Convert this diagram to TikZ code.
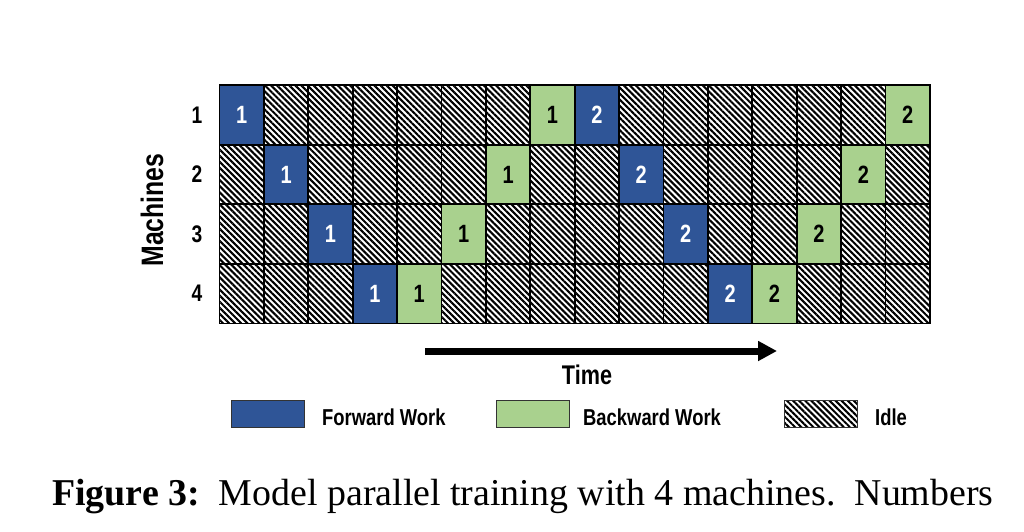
\documentclass[tikz,border=0pt]{standalone}
\usepackage{fontspec}
\setmainfont{Liberation Serif}
\newfontfamily\labelfont[FakeStretch=0.8]{Liberation Sans}
\usetikzlibrary{arrows.meta,patterns.meta,positioning}

\definecolor{fwdblue}{RGB}{47,85,151}
\definecolor{bwdgreen}{RGB}{169,209,142}

\tikzset{
  cell/.style={draw=black,line width=1.8pt,minimum width=44.4pt,minimum height=59.6pt,
    inner sep=0pt,font=\labelfont\bfseries\fontsize{25}{25}\selectfont},
  fwd/.style={fill=fwdblue,text=white},
  bwd/.style={fill=bwdgreen,text=black},
  idle/.style={pattern={Lines[angle=-45,distance=4.3pt,line width=2.1pt]}},
  keybox/.style={draw=black!80,line width=1pt,minimum width=73pt,minimum height=27pt,inner sep=0pt},
  keytext/.style={anchor=base west,inner sep=0pt,font=\labelfont\bfseries\fontsize{23}{23}\selectfont},
  rowlabel/.style={inner sep=0pt,font=\labelfont\bfseries\fontsize{24}{24}\selectfont},
}

\begin{document}
\begin{tikzpicture}[x=1pt,y=1pt,yscale=-1,xscale=1]
\useasboundingbox (0,0) rectangle (1024,532);

% Grid of machines over time
\foreach \r/\fa/\ba/\fb/\bb in {1/1/8/9/16, 2/2/7/10/15, 3/3/6/11/14, 4/4/5/12/13}{
  \foreach \c in {1,...,16}{
    \def\kind{idle}\def\num{}
    \ifnum\c=\fa \def\kind{fwd}\def\num{1}\fi
    \ifnum\c=\ba \def\kind{bwd}\def\num{1}\fi
    \ifnum\c=\fb \def\kind{fwd}\def\num{2}\fi
    \ifnum\c=\bb \def\kind{bwd}\def\num{2}\fi
    \node [cell,\kind] (c\r-\c) at ({219.5+(\c-0.5)*44.4},{85+(\r-0.5)*59.6}) {\num};
  }
  % Text Node
  \node [rowlabel] (m\r) at (197,{85+(\r-0.5)*59.6}) {\r};
}

% Text Node
\node [rowlabel,rotate=90,font=\labelfont\bfseries\fontsize{31}{31}\selectfont] (machines) at (152,210) {Machines};

% Time arrow
\coordinate (t0) at (425,351);
\coordinate (t1) at (777,351);
\draw [line width=7pt,-{Triangle[length=19pt,width=19pt]}] (t0) -- (t1);
% Text Node
\node [keytext,anchor=base,font=\labelfont\bfseries\fontsize{27}{27}\selectfont] (time) at (587,384) {Time};

% Legend
\node [keybox,fwd] (kf) at (268,414) {};
\node [keytext] (kft) at (322,425) {Forward Work};
\node [keybox,bwd] (kb) at (533,413.5) {};
\node [keytext] (kbt) at (583,425) {Backward Work};
\node [keybox,idle] (ki) at (821,414) {};
\node [keytext] (kit) at (875,425) {Idle};

% Caption
\node [anchor=base west,inner sep=0pt,font=\fontsize{37.9}{37.9}\selectfont] (cap) at (52,505)
  {\textbf{Figure 3:}\ \ Model parallel training with 4 machines.\ \ Numbers};

\end{tikzpicture}
\end{document}
